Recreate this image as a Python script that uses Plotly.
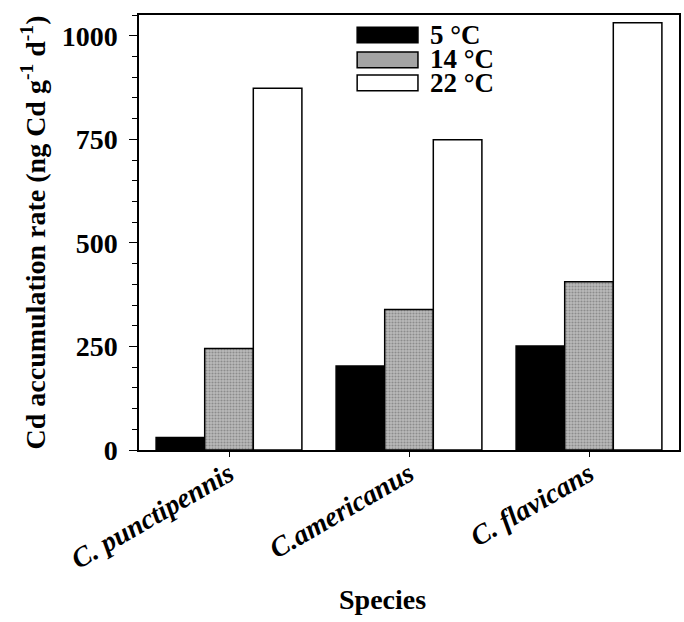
import plotly.graph_objects as go

species = ["C. punctipennis", "C.americanus", "C. flavicans"]
temps = ["5 °C", "14 °C", "22 °C"]
rate_5 = [30, 203, 251]
rate_14 = [245, 339, 406]
rate_22 = [873, 749, 1031]
y_ticks = [0, 250, 500, 750, 1000]

FONT = "Liberation Serif"
GRAY_PATTERN = dict(shape=".", fgcolor="#5e5e5e", bgcolor="#bababa", size=3, solidity=0.4)
fills = ["black", "#a4a4a4", "white"]

fig = go.Figure()
fig.add_trace(go.Bar(name=temps[0], x=species, y=rate_5, showlegend=False,
                     marker=dict(color="black", line=dict(color="black", width=1.5))))
fig.add_trace(go.Bar(name=temps[1], x=species, y=rate_14, showlegend=False,
                     marker=dict(color="#a4a4a4", line=dict(color="black", width=1.5),
                                 pattern=GRAY_PATTERN)))
fig.add_trace(go.Bar(name=temps[2], x=species, y=rate_22, showlegend=False,
                     marker=dict(color="white", line=dict(color="black", width=1.5))))

# custom legend (wide swatches as in the original figure)
shapes = []
row_top = [0.972, 0.915, 0.862]
row_h = 0.036
for i, name in enumerate(temps):
    shapes.append(dict(type="rect", xref="paper", yref="paper",
                       x0=0.404, x1=0.5166, y0=row_top[i] - row_h, y1=row_top[i],
                       fillcolor=fills[i], line=dict(color="black", width=1.5)))
legend_text = "<br>".join("<span style='font-size:27px'><b>" + t + "</b></span>" for t in temps)

annotations = [
    dict(text=legend_text, xref="paper", yref="paper", x=0.535, y=0.899,
         xanchor="left", yanchor="middle", align="left", showarrow=False,
         font=dict(family=FONT, size=18.5, color="black")),
    dict(text="<b>Species</b>", x=0.45, y=0, xref="paper", yref="paper",
         xanchor="center", yanchor="top", yshift=-132, showarrow=False,
         font=dict(family=FONT, size=28, color="black")),
]

fig.update_layout(
    width=684, height=622,
    margin=dict(l=139, r=3, t=15, b=172),
    paper_bgcolor="white", plot_bgcolor="white",
    barmode="group", bargap=0.19, bargroupgap=0,
    font=dict(family=FONT, color="black"),
    showlegend=False,
    shapes=shapes,
    annotations=annotations,
)
fig.update_xaxes(
    range=[-0.5, 2.5], showline=True, linecolor="black", linewidth=1.5, mirror=True,
    ticks="outside", ticklen=5, tickcolor="black", tickwidth=1.2, tickangle=-30,
    ticklabelstandoff=-10,
    tickfont=dict(family=FONT, size=28, color="black", style="italic", weight="bold"),
    showgrid=False, zeroline=False,
)
fig.update_yaxes(
    range=[0, 1050], tickvals=y_ticks, showline=True, linecolor="black", linewidth=1.5,
    mirror=True, ticks="outside", ticklen=8, tickcolor="black", tickwidth=1.2,
    ticklabelstandoff=6,
    minor=dict(dtick=50, ticks="outside", ticklen=5, tickcolor="black", tickwidth=1),
    tickfont=dict(family=FONT, size=28, color="black", weight="bold"),
    title=dict(text="Cd accumulation rate (ng Cd g<sup>-1</sup> d<sup>-1</sup>)",
               font=dict(family=FONT, size=28, color="black", weight="bold"), standoff=8),
    showgrid=False, zeroline=False,
)

fig.write_html("out.html", config={"displayModeBar": False},
               post_script="document.body.style.margin='0';document.body.style.overflow='hidden';")
